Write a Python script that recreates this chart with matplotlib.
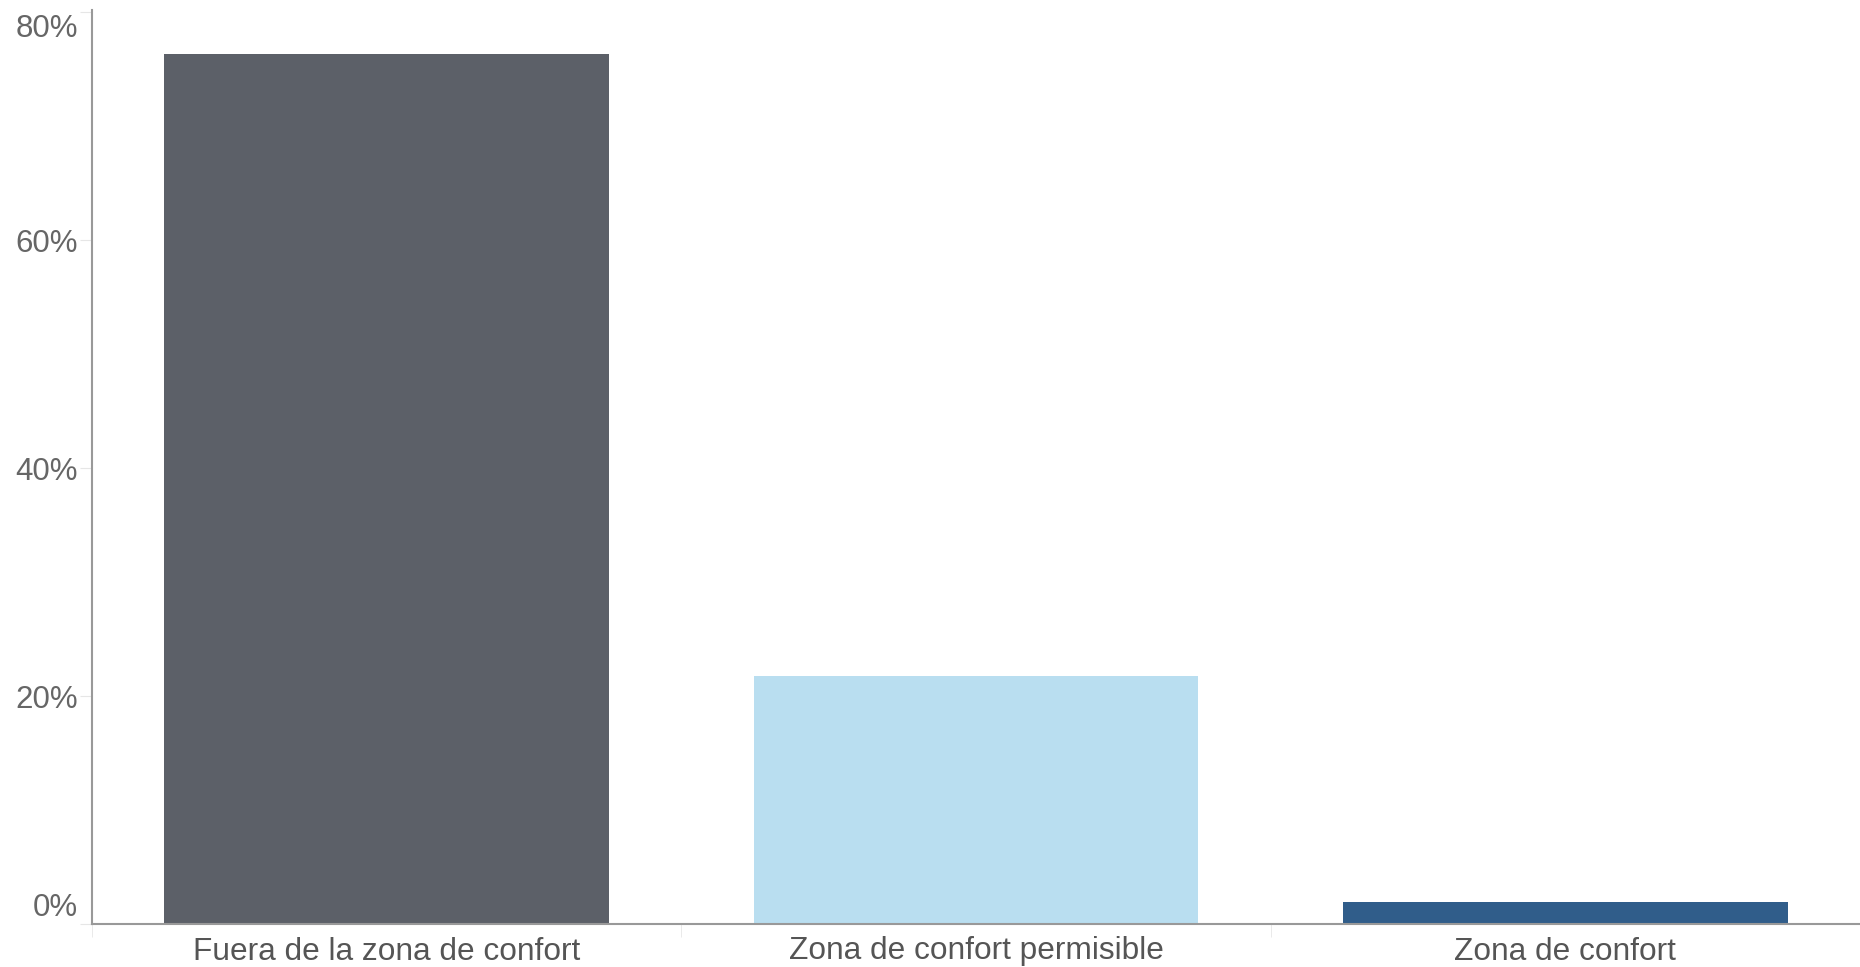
import matplotlib.pyplot as plt
import numpy as np
from matplotlib.ticker import FuncFormatter
from matplotlib.transforms import ScaledTranslation

categories = ["Fuera de la zona de confort", "Zona de confort permisible", "Zona de confort"]
values = [76.3, 21.8, 1.9]
colors = ["#5c6068", "#b9def0", "#305d8a"]
y_ticks = [0, 20, 40, 60, 80]

plt.rcParams["font.family"] = ["Liberation Sans", "DejaVu Sans"]

fig = plt.figure(figsize=(18.6, 9.67), dpi=100)
ax = fig.add_axes([92 / 1860, 1 - 924 / 967, 1 - 92 / 1860, (924 - 10) / 967])

x = np.arange(len(categories))
ax.bar(x, values, width=0.755, color=colors, zorder=2)

ax.set_xlim(-0.5, len(categories) - 0.5)
ax.set_ylim(0, 80.2)

ax.set_yticks(y_ticks)
ax.yaxis.set_major_formatter(FuncFormatter(lambda v, p: f"{v:.0f}%"))
ax.tick_params(axis="y", length=9, color="#e6e6e6", labelcolor="#666666", labelsize=22.5, pad=1)
for lab, v in zip(ax.get_yticklabels(), y_ticks):
    if v == 0:
        lab.set_verticalalignment("bottom")
        lab.set_transform(lab.get_transform() + ScaledTranslation(0, 1 / 100, fig.dpi_scale_trans))
    elif v == 80:
        lab.set_verticalalignment("top")
        lab.set_transform(lab.get_transform() + ScaledTranslation(0, -2 / 100, fig.dpi_scale_trans))

ax.set_xticks(x)
ax.set_xticklabels(categories)
ax.tick_params(axis="x", length=0, labelcolor="#555555", labelsize=22.8, pad=9)
ax.set_xticks(np.arange(len(categories) + 1) - 0.5, minor=True)
ax.tick_params(axis="x", which="minor", length=9, color="#e6e6e6")

for side in ["top", "right"]:
    ax.spines[side].set_visible(False)
ax.spines["left"].set_color("#999999")
ax.spines["bottom"].set_color("#999999")
ax.spines["left"].set_linewidth(1.5)
ax.spines["bottom"].set_linewidth(1.5)

fig.savefig("out.png", dpi=100, facecolor="white")
